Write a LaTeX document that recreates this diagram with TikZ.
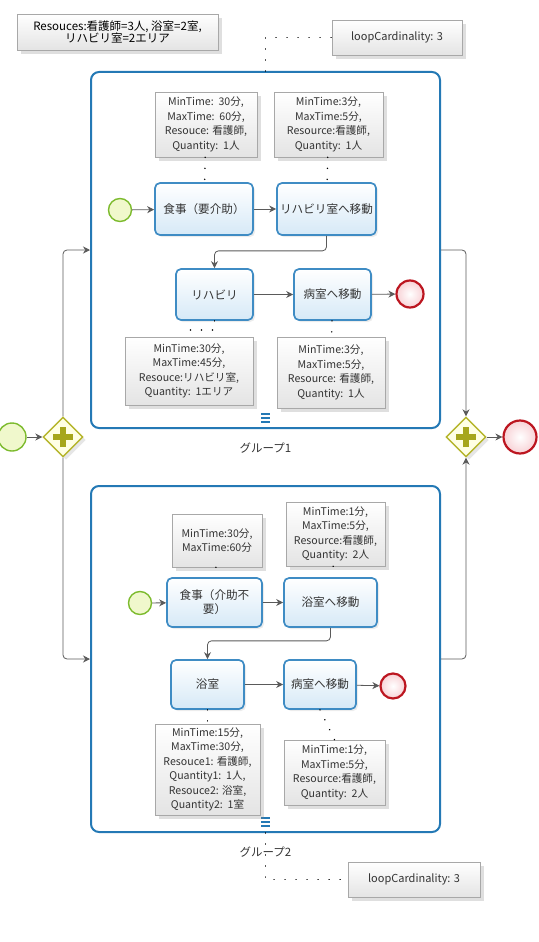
\documentclass[tikz,border=0pt]{standalone}
\usepackage{fontspec}
\setmainfont{Noto Sans CJK JP}
\usepackage{tikz}
\usetikzlibrary{positioning, arrows.meta, shapes.geometric, shadows}
\definecolor{grpblue}{HTML}{2479B5}
\definecolor{taskline}{HTML}{3F8CC4}
\definecolor{taskfill}{HTML}{D6E9F7}
\definecolor{noteline}{HTML}{A8A8A8}
\definecolor{notefill}{HTML}{E4E4E4}
\definecolor{startline}{HTML}{7DBB2E}
\definecolor{startfill}{HTML}{F0F8CC}
\definecolor{endline}{HTML}{BC1620}
\definecolor{endfill}{HTML}{F8D2D6}
\definecolor{gateline}{HTML}{B5B52B}
\definecolor{gatefill}{HTML}{FFFFE4}
\definecolor{gateplus}{HTML}{A6A61C}
\definecolor{ink}{HTML}{333333}
\definecolor{flow}{HTML}{5A5A5A}
\tikzset{
  task/.style     = {rectangle, rounded corners=5pt, draw=taskline, line width=1.7pt,
                     top color=white, bottom color=taskfill, align=center, inner sep=2pt,
                     font=\fontsize{11.6}{14}\selectfont\color{ink},
                     drop shadow={opacity=0.15, shadow xshift=2pt, shadow yshift=-2pt}},
  note/.style     = {rectangle, draw=noteline, line width=0.6pt, top color=white,
                     bottom color=notefill, align=center, inner sep=2pt,
                     font=\fontsize{10.6}{14.5}\selectfont\color{ink},
                     drop shadow={opacity=0.25, shadow xshift=4pt, shadow yshift=-4pt}},
  loopnote/.style = {note, font=\fontsize{11}{13}\selectfont\color{ink}},
  group/.style    = {rectangle, rounded corners=8pt, draw=grpblue, line width=2pt},
  startev/.style  = {circle, draw=startline, line width=1.4pt, fill=startfill, inner sep=0pt},
  endev/.style    = {circle, draw=endline, line width=2.2pt, inner color=white,
                     outer color=endfill, inner sep=0pt},
  gate/.style     = {diamond, draw=gateline, line width=1.4pt, fill=gatefill, inner sep=0pt,
                     minimum width=40pt, minimum height=40pt,
                     drop shadow={opacity=0.2, shadow xshift=3pt, shadow yshift=-3pt}},
  ar/.style       = {-{Stealth[length=7pt,width=7pt]}, draw=flow, line width=0.8pt},
  assoc/.style    = {draw=black, line width=1.6pt, line cap=round, dash pattern=on 0.01pt off 11pt},
}

\begin{document}
\begin{tikzpicture}[x=1pt, y=-1pt,
    plusbar/.style={draw=gateplus, line width=5.5pt},
    mimark/.style={draw=grpblue, line width=1.8pt},
    grplabel/.style={font=\fontsize{11.5}{14}\selectfont\color{ink}},
  ]
  \useasboundingbox (0,0) rectangle (538,942);

  % resources
  \node[note, minimum width=201pt, minimum height=36pt, font=\fontsize{11.5}{12}\selectfont\color{black}] (res) at (117.5,32)
       {Resouces:看護師=3人, 浴室=2室,\\リハビリ室=2エリア};

  % groups
  \node[group, minimum width=349pt, minimum height=356pt] (grp1) at (265.5,250) {};
  \node[group, minimum width=349pt, minimum height=346pt] (grp2) at (265.5,659) {};
  \node[grplabel, below=10pt of grp1] (lab1) {グループ1};
  \node[grplabel, below=10pt of grp2] (lab2) {グループ2};
  \foreach \yy in {7,11,15} {
    \draw[mimark] ([xshift=-4.5pt, yshift=\yy pt]grp1.south) -- ++(9,0);
    \draw[mimark] ([xshift=-4.5pt, yshift=\yy pt]grp2.south) -- ++(9,0);
  }
  \node[loopnote, minimum width=130pt, minimum height=35pt] (loop1) at (397,37.5) {loopCardinality: 3};
  \node[loopnote, minimum width=132pt, minimum height=35pt] (loop2) at (414,879.5) {loopCardinality: 3};
  \draw[assoc] (grp1.north) |- (loop1.west);
  \draw[assoc] (grp2.south) |- (loop2.west);

  % main flow
  \node[startev, minimum size=28pt] (st0) at (12,437) {};
  \node[gate] (gw1) at (63,437) {};
  \node[gate] (gw2) at (466,437) {};
  \node[endev, minimum size=33pt] (en0) at (520,437) {};
  \foreach \g in {gw1, gw2} {
    \draw[plusbar] ([yshift=-10pt]\g.center) -- ([yshift=10pt]\g.center);
    \draw[plusbar] ([xshift=-10pt]\g.center) -- ([xshift=10pt]\g.center);
  }
  \draw[ar] (st0) -- (gw1);
  \draw[ar, rounded corners=4pt] (gw1.north) |- (grp1.west);
  \draw[ar, rounded corners=4pt] (gw1.south) |- (grp2.west);
  \draw[ar, rounded corners=4pt] (grp1.east) -| (gw2.north);
  \draw[ar, rounded corners=4pt] (grp2.east) -| (gw2.south);
  \draw[ar] (gw2) -- (en0);

  % group 1
  \node[startev, minimum size=23pt] (s1) at (120,210) {};
  \node[task, minimum width=98pt, minimum height=52pt] (t11) at (204,209) {食事（要介助）};
  \node[task, minimum width=99pt, minimum height=52pt] (t12) at (326.5,209) {リハビリ室へ移動};
  \node[task, minimum width=77pt, minimum height=51pt] (t13) at (214.5,294.5) {リハビリ};
  \node[task, minimum width=77pt, minimum height=51pt] (t14) at (332.5,294.5) {病室へ移動};
  \node[endev, minimum size=27pt] (e1) at (410,294) {};
  \node[note, minimum width=102pt, minimum height=65pt] (n11) at (206,124.5)
       {MinTime:\ \ 30分,\\MaxTime:\ \ 60分,\\Resouce: 看護師,\\Quantity:\ \ 1人};
  \node[note, minimum width=109pt, minimum height=65pt] (n12) at (328.5,124.5)
       {MinTime:3分,\\MaxTime:5分,\\Resource:看護師,\\Quantity:\ \ 1人};
  \node[note, minimum width=128pt, minimum height=68pt] (n13) at (189,371)
       {MinTime:30分,\\MaxTime:45分,\\Resouce:リハビリ室,\\Quantity:\ \ 1エリア};
  \node[note, minimum width=108pt, minimum height=71pt] (n14) at (331,372.5)
       {MinTime:3分,\\MaxTime:5分,\\Resource: 看護師,\\Quantity:\ \ 1人};
  \draw[ar] (s1) -- (t11);
  \draw[ar] (t11) -- (t12);
  \draw[ar, rounded corners=4pt] (t12.south) -- ++(0,15) -| (t13.north);
  \draw[ar] (t13) -- (t14);
  \draw[ar] (t14) -- (e1);
  \draw[assoc] (n11) -- (t11);
  \draw[assoc] (n12) -- (t12);
  \draw[assoc] (t13.south) -- ++(0,9) -| (n13.north);
  \draw[assoc] (t14) -- (n14);

  % group 2
  \node[startev, minimum size=23pt] (s2) at (140,603) {};
  \node[task, minimum width=95pt, minimum height=49pt] (t21) at (214.5,602.5) {食事（介助不\\要）};
  \node[task, minimum width=93pt, minimum height=49pt] (t22) at (330.5,602.5) {浴室へ移動};
  \node[task, minimum width=73pt, minimum height=49pt] (t23) at (207.5,684.5) {浴室};
  \node[task, minimum width=72pt, minimum height=49pt] (t24) at (320,684.5) {病室へ移動};
  \node[endev, minimum size=25pt] (e2) at (393,686) {};
  \node[note, minimum width=90pt, minimum height=53pt] (n21) at (217,540.5)
       {MinTime:30分,\\MaxTime:60分};
  \node[note, minimum width=99pt, minimum height=64pt] (n22) at (335.5,534)
       {MinTime:1分,\\MaxTime:5分,\\Resource:看護師,\\Quantity:\ \ 2人};
  \node[note, minimum width=105pt, minimum height=91pt] (n23) at (207.5,769.5)
       {MinTime:15分,\\MaxTime:30分,\\Resouce1: 看護師,\\Quantity1:\ \ 1人,\\Resouce2: 浴室,\\Quantity2:\ \ 1室};
  \node[note, minimum width=101pt, minimum height=65pt] (n24) at (334.5,772.5)
       {MinTime:1分,\\MaxTime:5分,\\Resource:看護師,\\Quantity:\ \ 2人};
  \draw[ar] (s2) -- (t21);
  \draw[ar] (t21) -- (t22);
  \draw[ar, rounded corners=4pt] (t22.south) -- ++(0,13) -| (t23.north);
  \draw[ar] (t23) -- (t24);
  \draw[ar] (t24) -- (e2);
  \draw[assoc] (n21) -- (t21);
  \draw[assoc] (n22) -- (t22);
  \draw[assoc] (t23) -- (n23);
  \draw[assoc] (t24.south) -- (n24.north);

\end{tikzpicture}
\end{document}
